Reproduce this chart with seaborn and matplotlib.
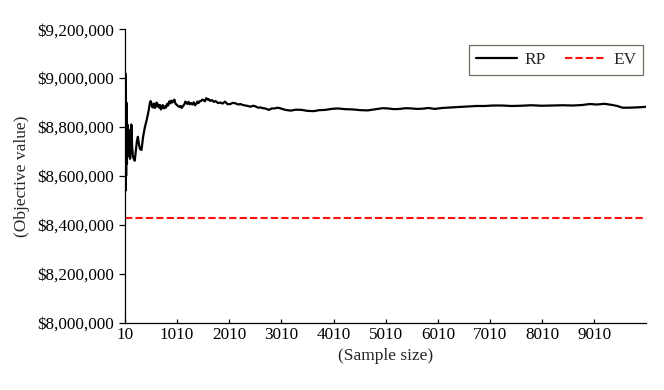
import matplotlib
matplotlib.use("Agg")
import matplotlib.pyplot as plt
import seaborn as sns
import pandas as pd
from matplotlib.ticker import FuncFormatter

# values
sample_size = [10, 15, 20, 25, 30, 35, 40, 50, 60, 70, 80, 90, 100, 110, 120,
               135, 150, 165, 180, 200, 220, 240, 260, 280, 300, 330, 360, 395,
               430, 460, 492, 505, 520, 535, 550, 570, 588, 605, 620, 635, 650,
               668, 684, 700, 720, 735, 750, 765, 781, 800, 820, 840, 860, 880,
               900, 920, 941, 960, 980, 1000, 1020, 1040, 1060, 1080, 1100,
               1125, 1150, 1170, 1190, 1210, 1230, 1255, 1280, 1305, 1330, 1355,
               1380, 1400, 1422, 1445, 1470, 1495, 1520, 1545, 1570, 1595, 1615,
               1645, 1680, 1715, 1750, 1795, 1840, 1885, 1930, 1980, 2033, 2080,
               2130, 2180, 2226, 2270, 2320, 2370, 2418, 2470, 2520, 2565, 2611,
               2655, 2700, 2735, 2771, 2825, 2880, 2940, 2997, 3090, 3189, 3290,
               3400, 3510, 3632, 3740, 3850, 3970, 4089, 4230, 4380, 4520, 4667,
               4760, 4850, 4950, 5052, 5170, 5280, 5390, 5501, 5610, 5720, 5830,
               5944, 6100, 6250, 6420, 6594, 6750, 6900, 7070, 7236, 7420, 7600,
               7800, 8006, 8200, 8400, 8590, 8777, 8920, 9060, 9200, 9355, 9450,
               9548, 9680, 9800, 9900, 10000]
rp_thousands = [9080, 8620, 9020, 8540, 8980, 8600, 8900, 8650, 8810, 8680,
                8790, 8700, 8760, 8670, 8700, 8810, 8720, 8680, 8670, 8662,
                8700, 8740, 8760, 8730, 8710, 8706, 8760, 8800, 8830, 8860,
                8900, 8906, 8898, 8882, 8880, 8896, 8878, 8888, 8900, 8884,
                8892, 8880, 8890, 8872, 8878, 8890, 8884, 8876, 8884, 8880,
                8895, 8888, 8905, 8897, 8908, 8900, 8907, 8912, 8896, 8892,
                8888, 8884, 8882, 8886, 8878, 8886, 8892, 8904, 8900, 8894,
                8903, 8893, 8898, 8892, 8901, 8889, 8895, 8904, 8898, 8906,
                8906, 8912, 8910, 8905, 8918, 8912, 8914, 8907, 8910, 8903,
                8906, 8898, 8900, 8896, 8904, 8893, 8894, 8899, 8897, 8892,
                8894, 8890, 8888, 8886, 8883, 8887, 8884, 8879, 8880, 8877,
                8876, 8873, 8870, 8876, 8876, 8879, 8876, 8870, 8867, 8871,
                8870, 8866, 8865, 8869, 8870, 8874, 8876, 8873, 8872, 8869,
                8868, 8871, 8874, 8877, 8876, 8873, 8874, 8877, 8876, 8874,
                8875, 8878, 8874, 8878, 8880, 8882, 8884, 8886, 8886, 8888,
                8888, 8886, 8887, 8889, 8887, 8888, 8889, 8888, 8890, 8894,
                8892, 8895, 8890, 8886, 8879, 8879, 8880, 8881, 8883]
ev_value = 8427000

y_ticks = [8000000, 8200000, 8400000, 8600000, 8800000, 9000000, 9200000]
x_ticks = [10, 1010, 2010, 3010, 4010, 5010, 6010, 7010, 8010, 9010]

df = pd.DataFrame({"n": sample_size, "RP": [v * 1000 for v in rp_thousands]})

sns.set_style("ticks")
plt.rcParams['font.family'] = ['Liberation Serif', 'DejaVu Serif']

fig = plt.figure(figsize=(6.64, 3.90), dpi=100)
ax = fig.add_axes([0.188, 0.173, 0.785, 0.752])

sns.lineplot(data=df, x="n", y="RP", ax=ax, color="black", linewidth=1.6,
             label="RP")
ax.axhline(ev_value, color="#ff1010", linewidth=1.5, linestyle=(0, (3.5, 1.5)),
           label="EV")

ax.set_xlim(10, 10000)
ax.set_ylim(y_ticks[0], y_ticks[-1])
ax.set_xticks(x_ticks)
ax.set_yticks(y_ticks)
ax.yaxis.set_major_formatter(FuncFormatter(lambda v, p: f"${v:,.0f}"))

ax.tick_params(axis="y", direction="out", length=4, width=0.9, labelsize=12.3,
               colors="black", pad=4)
ax.tick_params(axis="x", direction="in", length=3, width=0.9, labelsize=12.3,
               colors="black", pad=3)
for s in ["top", "right"]:
    ax.spines[s].set_visible(False)
for s in ["left", "bottom"]:
    ax.spines[s].set_linewidth(0.9)
    ax.spines[s].set_color("black")

ax.set_xlabel("(Sample size)", fontsize=12.5, labelpad=4)
ax.set_ylabel("(Objective value)", fontsize=12.5, labelpad=5)

leg = ax.legend(loc="upper right", ncol=2, fontsize=12.5, frameon=True,
                fancybox=False, handlelength=2.4, handletextpad=0.4,
                columnspacing=1.1, bbox_to_anchor=(0.995, 0.948),
                borderpad=0.4, borderaxespad=0.0)
leg.get_frame().set_edgecolor("#4a4a3a")
leg.get_frame().set_linewidth(0.9)

fig.savefig("out.png", dpi=100)
